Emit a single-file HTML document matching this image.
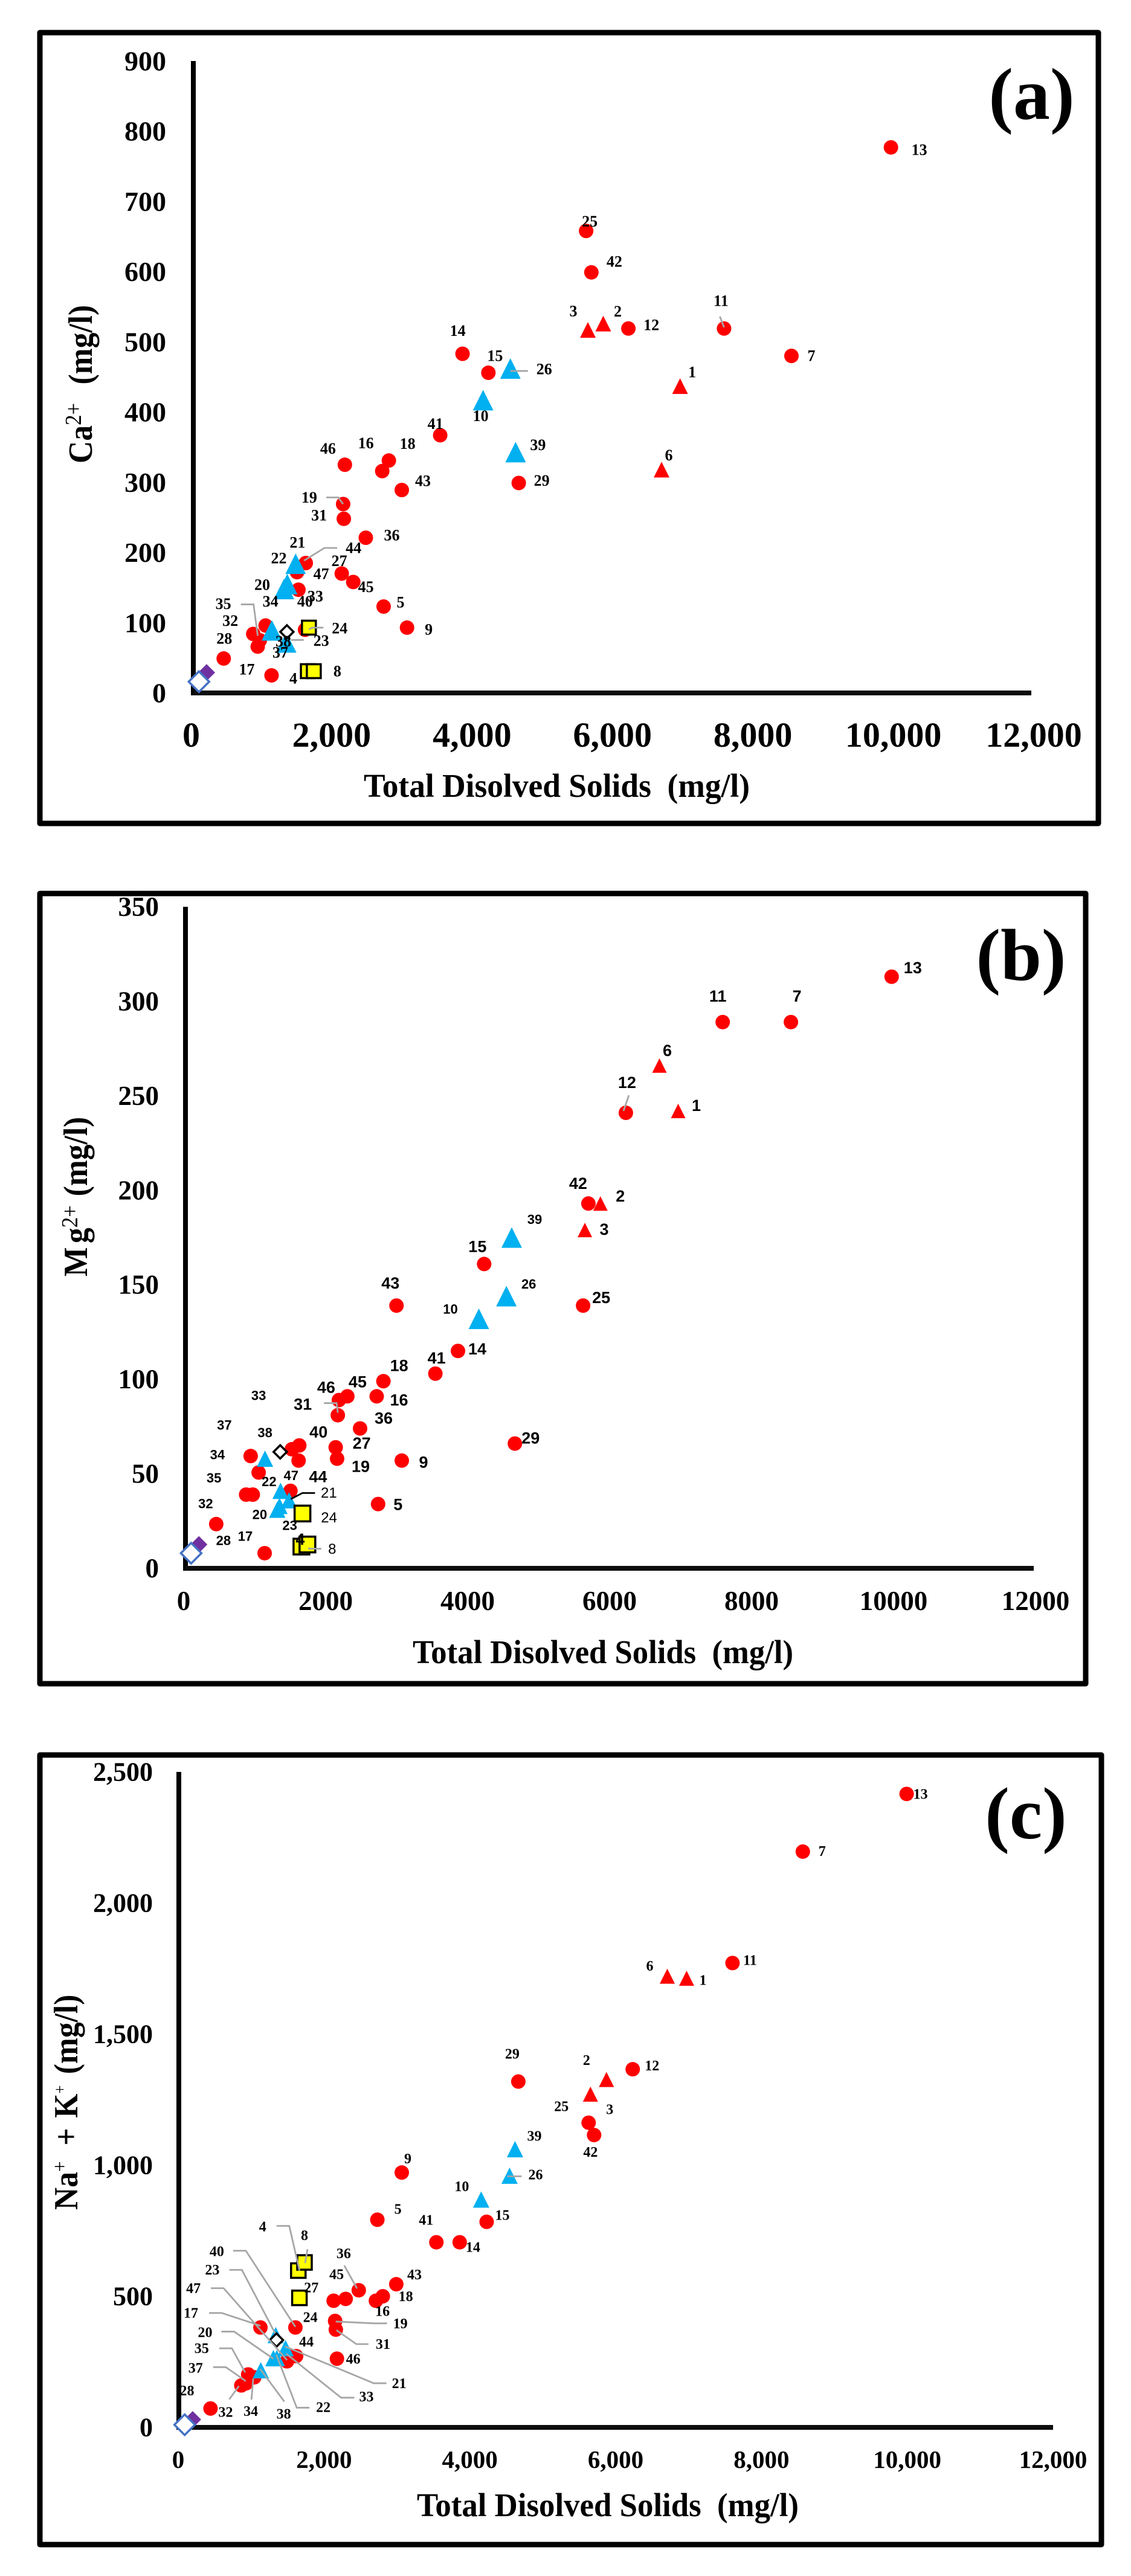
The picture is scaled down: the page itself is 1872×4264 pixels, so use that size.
<!DOCTYPE html>
<html lang="en">
<head>
<meta charset="utf-8">
<title>TDS scatter plots of Ca, Mg and Na+K</title>
<style>
html,body{margin:0;padding:0;background:#fff;}
svg{display:block;}
text{font-family:"Liberation Serif",serif;font-weight:bold;fill:#000;white-space:pre;}
</style>
</head>
<body>
<svg id="figure" xmlns="http://www.w3.org/2000/svg" width="1872" height="4264" viewBox="0 0 1872 4264">
  <rect x="0" y="0" width="1872" height="4264" fill="#fff"/>
  <g id="panel-a">
    <rect x="66" y="54" width="1752" height="1309" fill="#fff" stroke="#000" stroke-width="9" stroke-linejoin="round"/>
    <text x="1707.5" y="197" font-size="122" text-anchor="middle">(a)</text>
    <text x="602" y="1319" font-size="55" textLength="639" lengthAdjust="spacingAndGlyphs">Total Disolved Solids  (mg/l)</text>
    <text transform="translate(152,767) rotate(-90) scale(0.92,1)" font-size="56">Ca<tspan font-size="38" font-weight="normal" dy="-18">2+</tspan><tspan dx="33" dy="18">(mg/l)</tspan></text>
  </g>
  <g id="panel-b">
    <rect x="66" y="1479" width="1731" height="1308" fill="#fff" stroke="#000" stroke-width="9" stroke-linejoin="round"/>
    <text x="1690" y="1622" font-size="122" text-anchor="middle">(b)</text>
    <text x="683" y="2753" font-size="55" textLength="630" lengthAdjust="spacingAndGlyphs">Total Disolved Solids  (mg/l)</text>
    <text transform="translate(144,2113) rotate(-90) scale(0.92,1)" font-size="56">M<tspan dx="7">g</tspan><tspan font-size="38" font-weight="normal" dy="-16">2+</tspan><tspan dx="16" dy="16">(mg/l)</tspan></text>
  </g>
  <g id="panel-c">
    <rect x="66" y="2905" width="1757" height="1307" fill="#fff" stroke="#000" stroke-width="9" stroke-linejoin="round"/>
    <text x="1698" y="3043" font-size="122" text-anchor="middle">(c)</text>
    <text x="690" y="4165" font-size="55" textLength="632" lengthAdjust="spacingAndGlyphs">Total Disolved Solids  (mg/l)</text>
    <text transform="translate(128,3658) rotate(-90) scale(0.92,1)" font-size="56">Na<tspan font-size="34" font-weight="normal" dy="-18">+</tspan><tspan dx="28" dy="18">+</tspan><tspan dx="18">K</tspan><tspan font-size="27" font-weight="normal" dy="-20">+</tspan><tspan dx="20" dy="20">(mg/l)</tspan></text>
  </g>
</svg>
<script>
// ---------- data ----------
const sampleIds = [1,2,3,4,5,6,7,8,9,10,11,12,13,14,15,16,17,18,19,20,21,22,23,24,25,26,27,28,29,31,32,33,34,35,36,37,38,39,40,41,42,43,44,45,46,47];
const tdsValues = [6970,5870,5650,1640,2725,6705,8565,1725,3060,4150,7600,6230,9990,3855,4225,2705,1120,2800,2145,1298,1465,1345,1330,1655,5625,4540,2125,435,4660,2155,858,1505,922,1035,2470,952,1125,4615,1600,3535,5700,2985,1610,2290,2170,1485];
const caValues = [437,526,517,31,123,318,480,31,93,417,519,519,777,483,456,316,25,331,269,148,184,155,72,93,658,462,170,49,299,248,84,147,66,96,221,75,89,343,90,367,599,289,185,158,325,172];
const mgValues = [242,193,179,11.5,34,266,289,12.6,57,132,289,241,313,115,161,91,8,99,58,31,36,41,33,29,139,144,64,23.4,66,81,39,63,59.4,50.7,74,39,58,175,57,103,193,139,65,91,89,41];
const naKValues = [1713,1327,1271,598,792,1721,2196,629,972,869,1771,1366,2416,706,784,483,381,500,406,264,302,264,352,494,1162,960,483,72,1319,373,160,270,168,191,523,202,218,1061,381,706,1115,546,272,490,262,252];

const redTriangleIds = [1,2,3,6];
const blueTriangleIds = [10,20,21,22,23,26,38,39];
const squareIds = [4,8,24];

// unlabeled reference diamonds: black, purple, open-blue
const diamondKinds = ['purple','open-blue','black'];
const diamondTds = [190,80,1340];
const diamondCa = [29,16,87];
const diamondMg = [12.6,8,61.6];
const diamondNaK = [30,10,333];

const xTickValues = [0,2000,4000,6000,8000,10000,12000];
const xTickLabelsComma = ['0','2,000','4,000','6,000','8,000','10,000','12,000'];
const xTickLabelsPlain = ['0','2000','4000','6000','8000','10000','12000'];
const caTickValues = [0,100,200,300,400,500,600,700,800,900];
const caTickLabels = ['0','100','200','300','400','500','600','700','800','900'];
const mgTickValues = [0,50,100,150,200,250,300,350];
const mgTickLabels = ['0','50','100','150','200','250','300','350'];
const naKTickValues = [0,500,1000,1500,2000,2500];
const naKTickLabels = ['0','500','1,000','1,500','2,000','2,500'];

// ---------- label placement relative to each mark (px) ----------
const labelOffsetsA = {13:[47,4],25:[6,-16],42:[38,-18],3:[-24,-31],2:[24,-20],12:[38,-6],11:[-5,-46],7:[33,0],1:[20,-23],14:[-8,-38],15:[11,-28],26:[56,1],10:[-4,26],39:[37,-12],29:[38,-4],6:[12,-24],41:[-8,-19],46:[-28,-27],16:[-27,-46],18:[31,-28],43:[35,-15],19:[-56,-11],31:[-41,-6],36:[43,-4],44:[79,-25],21:[3,-35],22:[-14,-43],20:[-36,-7],27:[-4,-21],47:[40,3],45:[21,8],33:[28,11],34:[21,-75],40:[0,-47],35:[-70,-36],32:[-38,-22],28:[1,-33],17:[-41,-10],4:[-24,12],8:[39,0],5:[28,-7],9:[36,3],24:[51,1],23:[58,-3],38:[19,18],37:[34,20]};
const leadersA = {19:[[-28,-11],[-8,-11],[0,0]],44:[[52,-25],[31,-25],[-3,-4]],35:[[-41,-35],[-20,-35],[-13,17]],24:[[24,0],[5,0],[0,3]],23:[[29,-4],[8,-4]],11:[[-7,-20],[0,-2]],26:[[29,4],[0,4]]};

const labelOffsetsB = {13:[35,-15],7:[10,-43],11:[-8,-43],6:[13,-25],12:[2,-50],1:[30,-9],42:[-17,-33],2:[33,-12],3:[32,-1],39:[38,-30],15:[-11,-29],26:[37,-20],25:[30,-13],43:[-10,-37],10:[-47,-16],29:[26,-9],14:[32,-3],41:[2,-26],18:[26,-26],16:[37,6],45:[17,-24],46:[-21,-21],31:[-58,-18],36:[39,-17],27:[43,-7],19:[39,13],9:[36,3],5:[33,1],40:[33,-47],44:[31,52],33:[-55,-89],37:[-47,-115],38:[0,-43],34:[-55,-2],35:[-74,9],32:[-67,15],28:[12,27],17:[-32,-28],47:[1,-25],22:[-19,-15],21:[66,-12],20:[-29,8],23:[17,32],24:[44,7],4:[-2,-12],8:[41,8]};
const leadersB = {12:[[5,-29],[-4,-3]],31:[[-23,-20],[-2,-20],[0,-4]],21:[[43,-12],[22,-12],[3,-2]],8:[[23,7],[3,7],[2,5]]};
const smallLabelsB = [10,26,39,33,37,38,34,35,32,28,17,47,22,20,23];
const regularLabelsB = [21,24,8];

const labelOffsetsC = {13:[23,1],7:[32,0],11:[29,-4],6:[-29,-16],1:[27,4],12:[32,-5],2:[-33,-31],3:[32,26],29:[-10,-45],25:[-45,-26],42:[-6,29],39:[32,-21],26:[43,-1],10:[-32,-21],9:[10,-22],5:[34,-17],41:[-17,-36],14:[22,9],15:[26,-10],43:[30,-15],18:[38,1],16:[11,18],36:[-25,-60],45:[-15,-40],27:[-37,-21],19:[108,5],31:[78,25],46:[27,1],24:[18,33],40:[-130,-125],44:[17,-23],8:[0,-44],4:[-59,-72],23:[-105,-107],47:[-155,-120],17:[-115,-23],20:[-113,-42],35:[-87,-47],37:[-87,-10],32:[-26,45],34:[8,47],28:[-39,-29],38:[38,73],22:[77,82],33:[129,67],21:[188,59]};
const leadersC = {4:[[-36,-74],[-15,-74],[2,0]],8:[[5,-22],[1,1]],36:[[-24,-41],[-3,-3]],40:[[-103,-127],[-82,-127],[0,-1]],23:[[-77,-108],[-56,-108],[-1,-3]],47:[[-126,-121],[-105,-121],[0,-2]],17:[[-85,-24],[-64,-24],[0,-3]],20:[[-86,-44],[-65,-44],[0,1]],35:[[-58,-48],[-37,-48],[-15,-8]],37:[[-58,-12],[-37,-12],[-4,11]],32:[[-20,23],[-4,1]],34:[[9,27],[12,-8]],38:[[39,52],[-1,-2]],22:[[54,82],[33,82],[-1,-6]],33:[[109,68],[87,68],[-4,-5]],21:[[167,58],[146,58],[-1,-3]],19:[[86,4],[65,4],[1,1]],31:[[54,24],[34,24],[1,1]],26:[[20,1],[-4,1]]};

// ---------- drawing ----------
const NS = 'http://www.w3.org/2000/svg';
function make(tag, attrs, parent) {
  const el = document.createElementNS(NS, tag);
  for (const k in attrs) el.setAttribute(k, attrs[k]);
  parent.appendChild(el);
  return el;
}
function drawPanel(cfg) {
  const host = document.getElementById(cfg.hostId);
  const sx = function (v) { return cfg.x0 + v * (cfg.xEnd - cfg.x0) / cfg.xMax; };
  const sy = function (v) { return cfg.y0 - v * (cfg.y0 - cfg.yTop) / cfg.yMax; };
  const tx = function (v) { return cfg.xTickStart + v * (cfg.xTickEnd - cfg.xTickStart) / cfg.xMax; };

  const yAxis = make('line', {x1: cfg.x0, x2: cfg.x0, y1: cfg.yTop, y2: cfg.y0 + 4, stroke: '#000', 'stroke-width': 8}, host);
  
  
  const xAxis = make('line', {x1: cfg.x0, x2: cfg.xEnd, y1: cfg.y0, y2: cfg.y0, stroke: '#0d0d0d', 'stroke-width': 8}, host);
  
  

  xTickValues.forEach(function (v, i) {
    const t = make('text', {x: tx(v), y: cfg.xTickBaseline, 'font-size': cfg.xTickSize, 'text-anchor': 'middle'}, host);
    t.textContent = cfg.xTickLabels[i];
    
    
  });
  cfg.yTickValues.forEach(function (v, i) {
    const t = make('text', {x: cfg.yTickRight, y: sy(v), 'font-size': cfg.yTickSize, 'text-anchor': 'end', 'dominant-baseline': 'central'}, host);
    t.textContent = cfg.yTickLabels[i];
    
    
  });

  const order = sampleIds.map(function (id, i) { return i; });
  function kindOf(id) {
    if (redTriangleIds.indexOf(id) >= 0) return 1;
    if (blueTriangleIds.indexOf(id) >= 0) return 2;
    if (squareIds.indexOf(id) >= 0) return 3;
    return 0;
  }
  order.sort(function (a, b) { return kindOf(sampleIds[a]) - kindOf(sampleIds[b]) || a - b; });

  order.forEach(function (i) {
    const id = sampleIds[i];
    const x = sx(tdsValues[i]);
    const y = sy(cfg.values[i]);
    const kind = kindOf(id);
    let m;
    if (kind === 0) {
      m = make('circle', {cx: x, cy: y, r: 12, fill: '#FF0000'}, host);
      
    } else if (kind === 3) {
      const s = cfg.squareSize(id);
      m = make('rect', {x: x - s / 2, y: y - s / 2, width: s, height: s, fill: '#FFFF00', stroke: '#000', 'stroke-width': 3.5}, host);
      
    } else {
      const s = kind === 1 ? cfg.redTriSize : cfg.blueTriSize(id);
      const fill = kind === 1 ? '#FF0000' : '#00B0F0';
      m = make('polygon', {points: x + ',' + (y - s / 2) + ' ' + (x + s / 2) + ',' + (y + s / 2) + ' ' + (x - s / 2) + ',' + (y + s / 2), fill: fill}, host);
      
    }
    
  });

  diamondKinds.forEach(function (kind, i) {
    const x = sx(diamondTds[i]);
    const y = sy(cfg.diamondValues[i]);
    const r = kind === 'black' ? 11 : (kind === 'purple' ? 14 : 17);
    const fill = kind === 'purple' ? '#7030A0' : '#fff';
    const stroke = kind === 'purple' ? 'none' : (kind === 'black' ? '#000' : '#4472C4');
    const d = make('polygon', {points: x + ',' + (y - r) + ' ' + (x + r) + ',' + y + ' ' + x + ',' + (y + r) + ' ' + (x - r) + ',' + y, fill: fill, stroke: stroke, 'stroke-width': 3.5}, host);
    
    
  });

  sampleIds.forEach(function (id, i) {
    const pts = cfg.leaders[id];
    if (!pts) return;
    const x = sx(tdsValues[i]);
    const y = sy(cfg.values[i]);
    const color = (cfg.key === 'b' && id === 21) ? '#000' : '#A6A6A6';
    const line = make('polyline', {points: pts.map(function (p) { return (x + p[0]) + ',' + (y + p[1]); }).join(' '), fill: 'none', stroke: color, 'stroke-width': 2.8}, host);
    
    
  });

  sampleIds.forEach(function (id, i) {
    const off = cfg.labels[id];
    if (!off) return;
    const st = cfg.labelStyle(id);
    const t = make('text', {x: sx(tdsValues[i]) + off[0], y: sy(cfg.values[i]) + off[1], 'text-anchor': 'middle', 'dominant-baseline': 'central', 'font-size': st.size, style: 'font-family:' + st.family + ';font-weight:' + st.weight}, host);
    t.textContent = String(id);
    
    
  });
}

const SERIF = '"Liberation Serif",serif';
const SANS = '"Liberation Sans",sans-serif';

drawPanel({
  key: 'a', hostId: 'panel-a', x0: 320, xEnd: 1707, xMax: 12000, y0: 1147, yTop: 101, yMax: 900,
  values: caValues, diamondValues: diamondCa, xTickLabels: xTickLabelsComma, yTickValues: caTickValues, yTickLabels: caTickLabels,
  xTickBaseline: 1236, xTickSize: 58, xTickStart: 316.5, xTickEnd: 1711, yTickRight: 275, yTickSize: 46,
  redTriSize: 26, blueTriSize: function () { return 34; }, squareSize: function () { return 23; },
  labels: labelOffsetsA, leaders: leadersA,
  labelStyle: function () { return {size: 26, family: SERIF, weight: 'bold'}; }
});
drawPanel({
  key: 'b', hostId: 'panel-b', x0: 307, xEnd: 1711, xMax: 12000, y0: 2596, yTop: 1501, yMax: 350,
  values: mgValues, diamondValues: diamondMg, xTickLabels: xTickLabelsPlain, yTickValues: mgTickValues, yTickLabels: mgTickLabels,
  xTickBaseline: 2665, xTickSize: 45, xTickStart: 304, xTickEnd: 1714, yTickRight: 263, yTickSize: 45,
  redTriSize: 24, blueTriSize: function (id) { return (id === 39 || id === 26 || id === 10) ? 34 : 27; }, squareSize: function (id) { return 26; },
  labels: labelOffsetsB, leaders: leadersB,
  labelStyle: function (id) {
    if (regularLabelsB.indexOf(id) >= 0) return {size: 24, family: SANS, weight: 'normal'};
    if (smallLabelsB.indexOf(id) >= 0) return {size: 22, family: SANS, weight: 'bold'};
    return {size: 27, family: SANS, weight: 'bold'};
  }
});
drawPanel({
  key: 'c', hostId: 'panel-c', x0: 296, xEnd: 1743, xMax: 12000, y0: 4018, yTop: 2933, yMax: 2500,
  values: naKValues, diamondValues: diamondNaK, xTickLabels: xTickLabelsComma, yTickValues: naKTickValues, yTickLabels: naKTickLabels,
  xTickBaseline: 4085, xTickSize: 41, xTickStart: 295, xTickEnd: 1743, yTickRight: 253, yTickSize: 44,
  redTriSize: 25, blueTriSize: function () { return 27; }, squareSize: function () { return 24; },
  labels: labelOffsetsC, leaders: leadersC,
  labelStyle: function () { return {size: 24, family: SERIF, weight: 'bold'}; }
});
</script>
</body>
</html>
